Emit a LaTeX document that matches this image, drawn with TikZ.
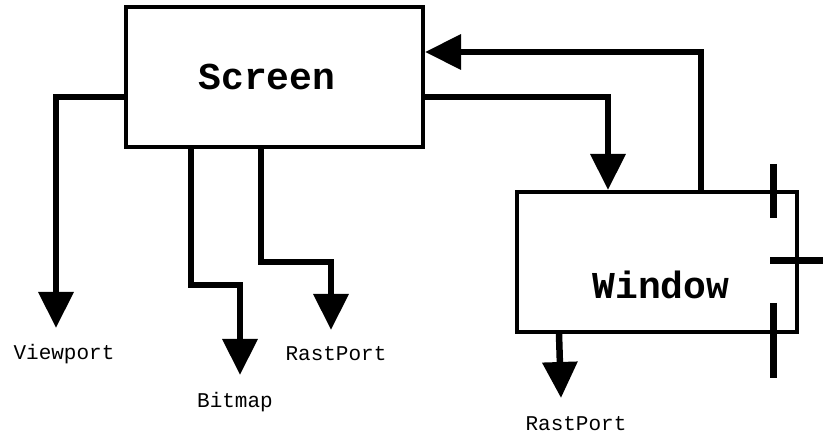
\documentclass[tikz,border=0pt]{standalone}
\usepackage{fontspec}
\setmonofont{Liberation Mono}
\usetikzlibrary{arrows.meta}
\begin{document}
\begin{tikzpicture}[x=1pt,y=-1pt,
  box/.style={draw, line width=4pt, rectangle, inner sep=0pt},
  title/.style={font=\ttfamily\bfseries\fontsize{38}{40}\selectfont, inner sep=0pt},
  lbl/.style={font=\ttfamily\fontsize{21}{24}\selectfont, inner sep=0pt},
  conn/.style={line width=6.5pt, line join=miter, -{Triangle[length=36pt,width=34pt]}},
  gad/.style={line width=7pt}]
\useasboundingbox (0,0) rectangle (828,438);
\node[box, minimum width=297pt, minimum height=140pt] (screen) at (274.5,77) {};
\node[box, minimum width=280pt, minimum height=140pt] (window) at (657,262) {};
\node[title] (screent) at (267,77) {Screen};
\node[title] (windowt) at (661,285) {Window};
\node[lbl] (vp) at (64,354) {Viewport};
\node[lbl] (bm) at (235,402) {Bitmap};
\node[lbl] (rp1) at (336,354) {RastPort};
\node[lbl] (rp2) at (576,424) {RastPort};
\coordinate (vptip) at (56,328);
\coordinate (bmtip) at (240,375);
\coordinate (rp1tip) at (331,330);
\coordinate (rp2tip) at (561,398);
% connectors
\draw[conn] ([yshift=-20pt]screen.west) -| (vptip);
\draw[conn] ([xshift=67pt]screen.south west) -- ++(0,136) -| (bmtip);
\draw[conn] ([xshift=137pt]screen.south west) -- ++(0,113) -| (rp1tip);
\draw[conn] ([yshift=-20pt]screen.east) -| ([xshift=93pt]window.north west);
\draw[conn] ([xshift=186pt]window.north west) |- ([yshift=25pt]screen.east);
\draw[conn] ([xshift=44pt]window.south west) -- (rp2tip);
% gadgets
\draw[gad] (773,164) -- (773,218);
\draw[gad] (773,303) -- (773,378);
\draw[gad] (770,261) -- (823,261);
\end{tikzpicture}
\end{document}
